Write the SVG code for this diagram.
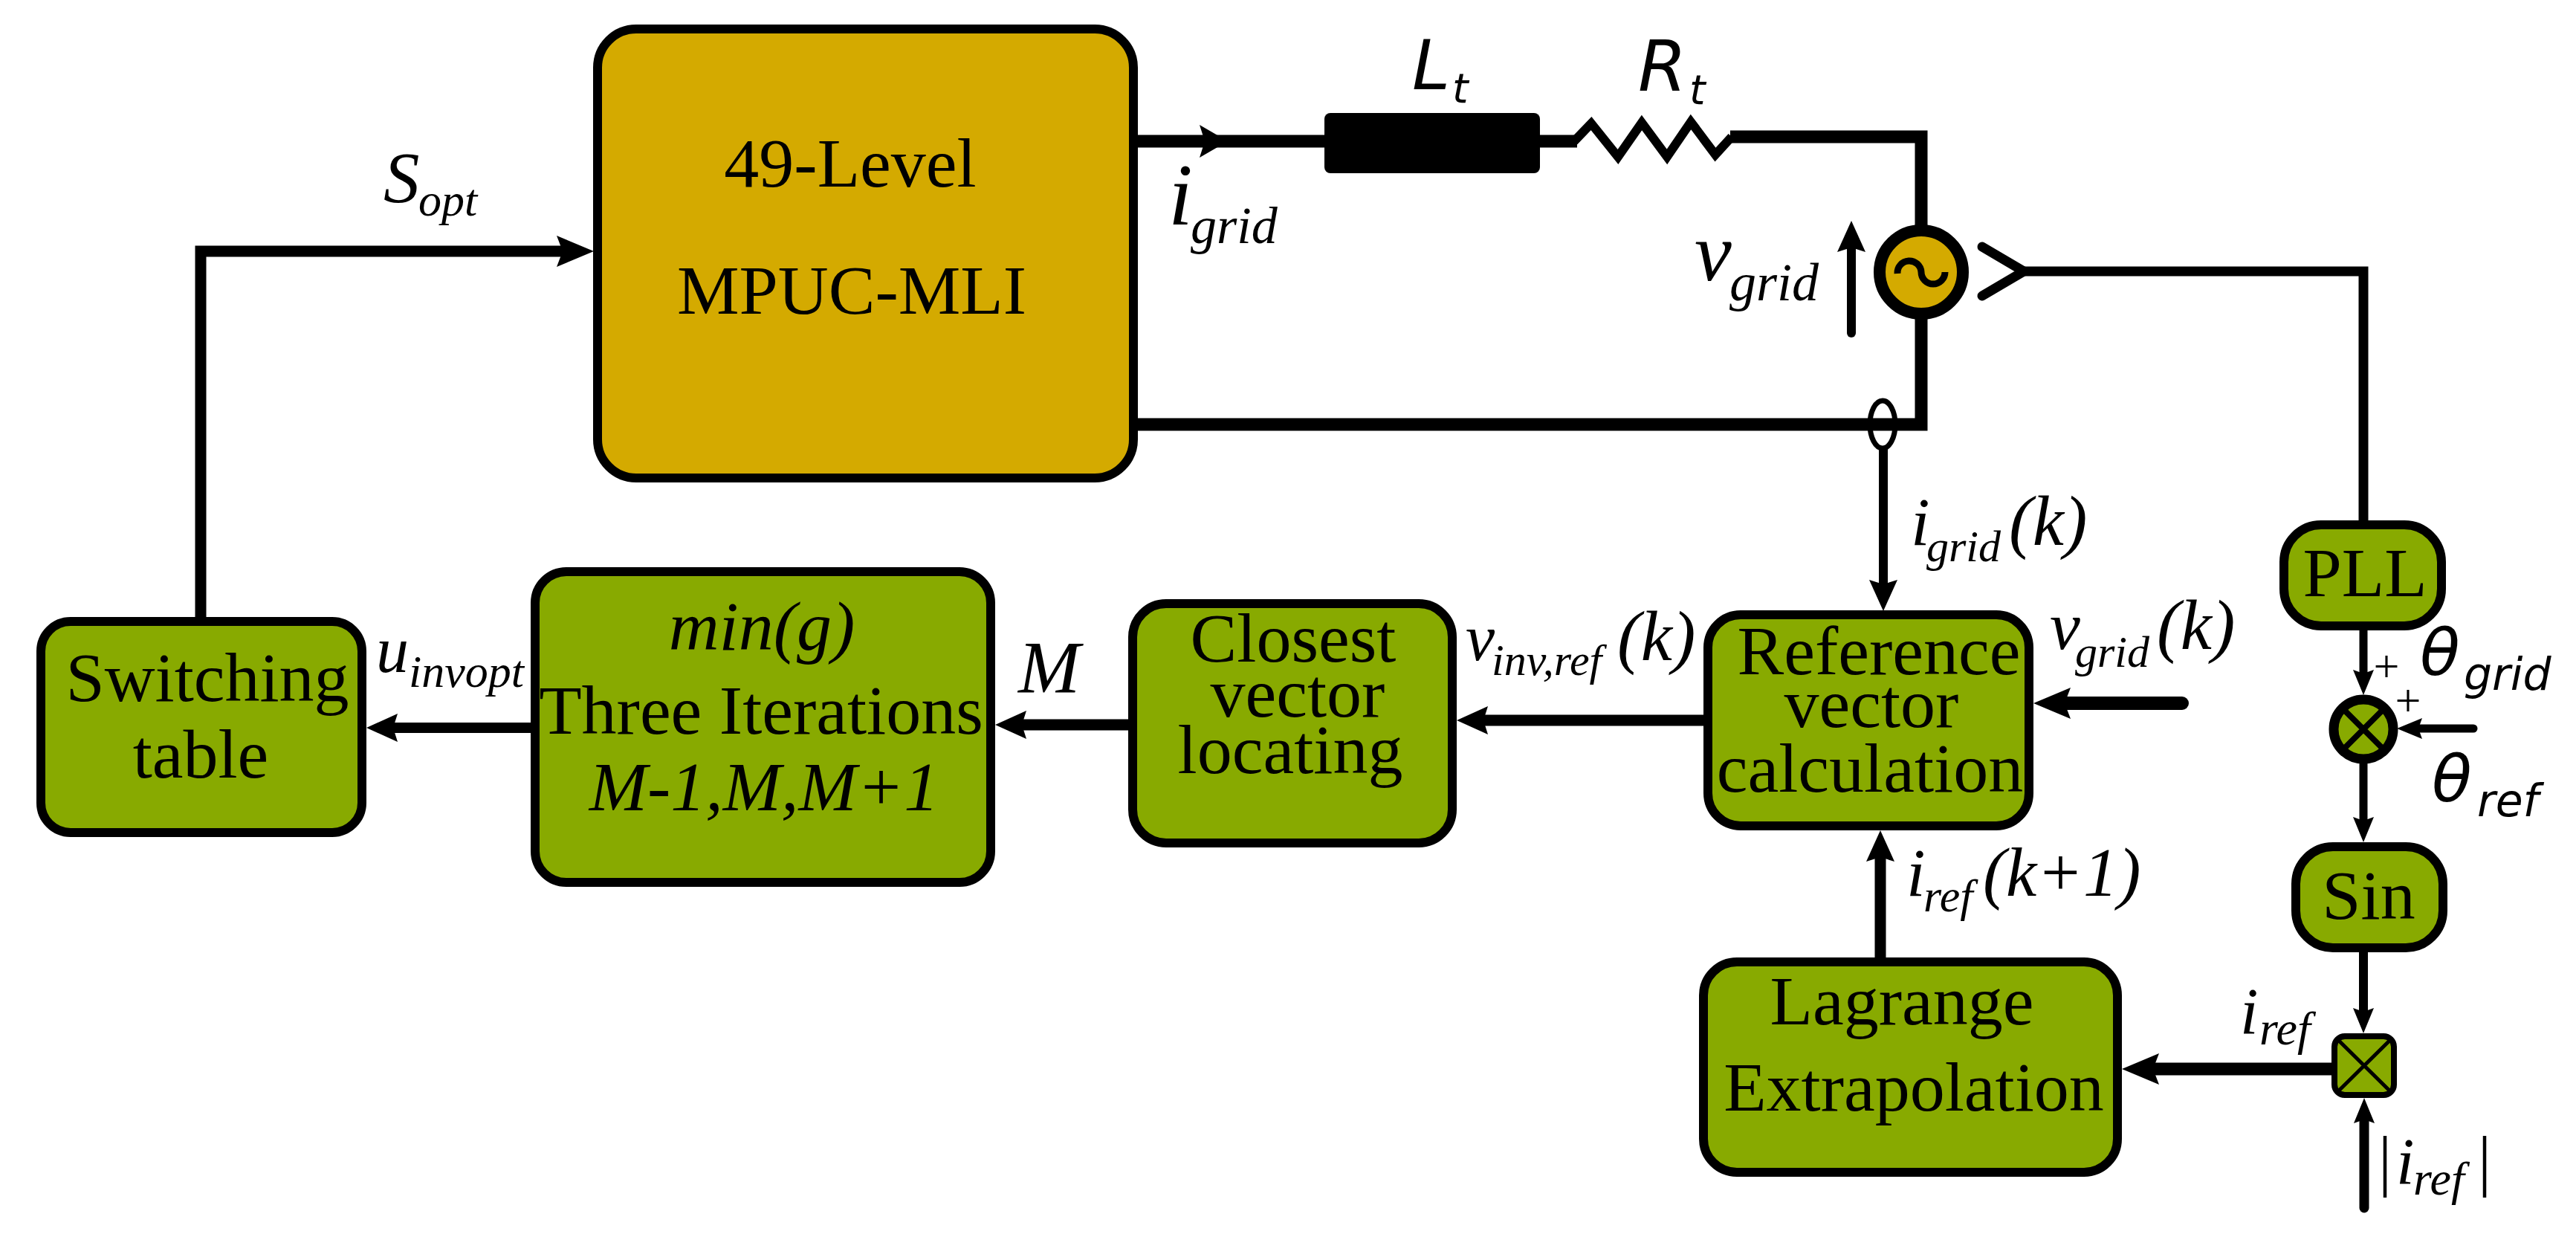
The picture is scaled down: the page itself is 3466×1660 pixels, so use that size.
<svg xmlns="http://www.w3.org/2000/svg" width="3466" height="1660" viewBox="0 0 3466 1660">
<style>
.box{stroke:#000;stroke-width:12}
.gold{fill:#D4AA00}
.green{fill:#88AA00}
.bt{font-family:"Liberation Serif","Times New Roman",serif;font-size:94px;text-anchor:middle;fill:#000}
.bi{font-style:italic}
.mi{font-family:"Liberation Serif","Times New Roman",serif;font-style:italic;fill:#000}
.ms{font-family:"DejaVu Sans",sans-serif;font-style:oblique;fill:#000}
.pl{font-family:"Liberation Serif","Times New Roman",serif;font-size:62px;text-anchor:middle;fill:#000}
.ln{fill:none;stroke:#000;stroke-linejoin:miter}
</style>
<defs>
<marker id="A1" markerUnits="userSpaceOnUse" orient="auto" refX="8" refY="0" markerWidth="60" markerHeight="50" overflow="visible"><path d="M50,0 L0,-21 L8,0 L0,21 Z" fill="#000"/></marker>
<marker id="A2" markerUnits="userSpaceOnUse" orient="auto" refX="6" refY="0" markerWidth="50" markerHeight="40" overflow="visible"><path d="M42,0 L0,-19 L6,0 L0,19 Z" fill="#000"/></marker>
<marker id="A3" markerUnits="userSpaceOnUse" orient="auto" refX="5" refY="0" markerWidth="40" markerHeight="30" overflow="visible"><path d="M34,0 L0,-14 L5,0 L0,14 Z" fill="#000"/></marker>
</defs>
<rect width="3466" height="1660" fill="#fff"/>

<g id="nodes">
<g id="mpuc-mli">
<rect class="box gold" x="804" y="39" width="721" height="604" rx="52"/>
<text class="bt" x="1144" y="251" font-size="95">49-Level</text>
<text class="bt" x="1146" y="422" font-size="95">MPUC-MLI</text>
</g>
<g id="switching-table">
<rect class="box green" x="55" y="836" width="432" height="284" rx="40"/>
<text class="bt" x="279" y="943">Switching</text>
<text class="bt" x="270" y="1046">table</text>
</g>
<g id="three-iterations">
<rect class="box green" x="720" y="769" width="613" height="418" rx="42"/>
<text class="bt bi" x="1025" y="874" font-size="92">min(g)</text>
<text class="bt" x="1024" y="987" font-size="92">Three Iterations</text>
<text class="bt bi" x="1028" y="1090" font-size="84">M-1,M,M+1</text>
</g>
<g id="closest-vector">
<rect class="box green" x="1524" y="812" width="430" height="322" rx="45"/>
<text class="bt" x="1740" y="890">Closest</text>
<text class="bt" x="1746" y="964">vector</text>
<text class="bt" x="1736" y="1040">locating</text>
</g>
<g id="reference-vector">
<rect class="box green" x="2298" y="827" width="432" height="284" rx="44"/>
<text class="bt" x="2528" y="907">Reference</text>
<text class="bt" x="2518" y="978">vector</text>
<text class="bt" x="2516" y="1065">calculation</text>
</g>
<g id="lagrange">
<rect class="box green" x="2292" y="1294" width="557" height="283" rx="45"/>
<text class="bt" x="2559" y="1378">Lagrange</text>
<text class="bt" x="2575" y="1494">Extrapolation</text>
</g>
<g id="pll">
<rect class="box green" x="3073" y="706" width="212" height="136" rx="50"/>
<text class="bt" x="3182" y="802" font-size="91">PLL</text>
</g>
<g id="sin">
<rect class="box green" x="3089" y="1139" width="198" height="136" rx="50"/>
<text class="bt" x="3187" y="1236" font-size="92">Sin</text>
</g>
<g id="summer">
<circle cx="3180" cy="981" r="40" fill="#88AA00" stroke="#000" stroke-width="13"/>
<path d="M3156,957 L3204,1005 M3204,957 L3156,1005" stroke="#000" stroke-width="8"/>
</g>
<g id="multiplier">
<rect x="3141" y="1394" width="80" height="79" rx="14" fill="#88AA00" stroke="#000" stroke-width="8"/>
<path d="M3145,1398 L3217,1469 M3217,1398 L3145,1469" stroke="#000" stroke-width="5"/>
</g>
<g id="inductor">
<rect x="1782" y="152" width="290" height="81" rx="8" fill="#000"/>
</g>
<g id="resistor">
<path class="ln" stroke-width="12" d="M2118,190 L2141,166 L2177,211 L2209,165 L2243,211 L2275,164 L2308,208 L2330,184"/>
</g>
<g id="grid-source">
<circle cx="2585" cy="366" r="56" fill="#D4AA00" stroke="#000" stroke-width="16"/>
<path class="ln" stroke-width="9" d="M2553,368 A16,16 0 0 1 2585,366 A16,16 0 0 0 2617,366"/>
</g>
<g id="voltage-sensor">
<path class="ln" stroke-width="13" stroke-linecap="round" d="M2667,332 L2723,365 L2667,398"/>
</g>
<g id="current-sensor">
<ellipse cx="2533" cy="571" rx="17" ry="32" fill="none" stroke="#000" stroke-width="7"/>
</g>
</g>

<g id="connectors">
<path class="ln" stroke-width="17" d="M1525,190 H1782 M2072,190 H2122 M2328,184 H2585 V310 M2585,422 V571 H1525"/>
<path d="M1652,190 L1614,168 L1621,190 L1614,212 Z" fill="#000"/>
<path class="ln" stroke-width="15" d="M270,836 V338 H757" marker-end="url(#A1)"/>
<path class="ln" stroke-width="14" d="M714,979 H529" marker-end="url(#A2)"/>
<path class="ln" stroke-width="15" d="M1520,975 H1375" marker-end="url(#A2)"/>
<path class="ln" stroke-width="15" d="M2292,969 H1996" marker-end="url(#A2)"/>
<path class="ln" stroke-width="18" stroke-linecap="round" d="M2936,946 H2778" marker-end="url(#A1)"/>
<path class="ln" stroke-width="12" d="M2534,604 V786" marker-end="url(#A2)"/>
<path class="ln" stroke-width="15" d="M2530,1288 V1153" marker-end="url(#A2)"/>
<path class="ln" stroke-width="17" d="M3137,1438 H2897" marker-end="url(#A1)"/>
<path class="ln" stroke-width="13" d="M2723,365 H3180 V706"/>
<path class="ln" stroke-width="11" d="M3180,848 V906" marker-end="url(#A3)"/>
<path class="ln" stroke-width="11" stroke-linecap="round" d="M3328,980 H3254" marker-end="url(#A3)"/>
<path class="ln" stroke-width="11" d="M3180,1027 V1104" marker-end="url(#A3)"/>
<path class="ln" stroke-width="12" d="M3180,1281 V1361" marker-end="url(#A3)"/>
<path class="ln" stroke-width="13" stroke-linecap="round" d="M3181,1625 V1506" marker-end="url(#A3)"/>
<path class="ln" stroke-width="12" stroke-linecap="round" d="M2491,448 V333" marker-end="url(#A2)"/>
</g>

<g id="labels">
<text class="mi"><tspan x="516" y="272" font-size="97">S</tspan><tspan x="563" y="290" font-size="62">opt</tspan></text>
<text class="mi"><tspan x="1572" y="302" font-size="118">i</tspan><tspan x="1602" y="327" font-size="70">grid</tspan></text>
<text class="ms"><tspan x="1900" y="120" font-size="92">L</tspan><tspan x="1954" y="138" font-size="55">t</tspan></text>
<text class="ms"><tspan x="2204" y="122" font-size="94">R</tspan><tspan x="2273" y="140" font-size="55">t</tspan></text>
<text class="mi"><tspan x="2280" y="377" font-size="112">v</tspan><tspan x="2327" y="404" font-size="72">grid</tspan></text>
<text class="mi"><tspan x="506" y="904" font-size="88">u</tspan><tspan x="550" y="924" font-size="62">invopt</tspan></text>
<text class="mi" x="1370" y="931" font-size="100">M</text>
<text class="mi"><tspan x="1972" y="888" font-size="88">v</tspan><tspan x="2007" y="908" font-size="60">inv,ref</tspan><tspan x="2176" y="888" font-size="95">(k)</tspan></text>
<text class="mi"><tspan x="2571" y="733" font-size="92">i</tspan><tspan x="2592" y="755" font-size="60">grid</tspan><tspan x="2703" y="733" font-size="95">(k)</tspan></text>
<text class="mi"><tspan x="2758" y="873" font-size="92">v</tspan><tspan x="2792" y="897" font-size="60">grid</tspan><tspan x="2902" y="873" font-size="95">(k)</tspan></text>
<text class="mi"><tspan x="2565" y="1205" font-size="92">i</tspan><tspan x="2588" y="1226" font-size="62">ref</tspan><tspan x="2668" y="1205" font-size="93">(k+1)</tspan></text>
<text class="mi"><tspan x="3014" y="1390" font-size="88">i</tspan><tspan x="3040" y="1405" font-size="64">ref</tspan></text>
<text class="mi"><tspan x="3200" y="1592" font-size="90" font-style="normal">|</tspan><tspan x="3224" y="1592" font-size="88">i</tspan><tspan x="3247" y="1607" font-size="64">ref</tspan><tspan x="3334" y="1592" font-size="90" font-style="normal">|</tspan></text>
<text class="ms"><tspan x="3256" y="908" font-size="88">θ</tspan><tspan x="3315" y="928" font-size="60">grid</tspan></text>
<text class="ms"><tspan x="3272" y="1078" font-size="88">θ</tspan><tspan x="3333" y="1098" font-size="60">ref</tspan></text>
<text class="pl" x="3211" y="917">+</text>
<text class="pl" x="3240" y="963">+</text>
</g>
</svg>
